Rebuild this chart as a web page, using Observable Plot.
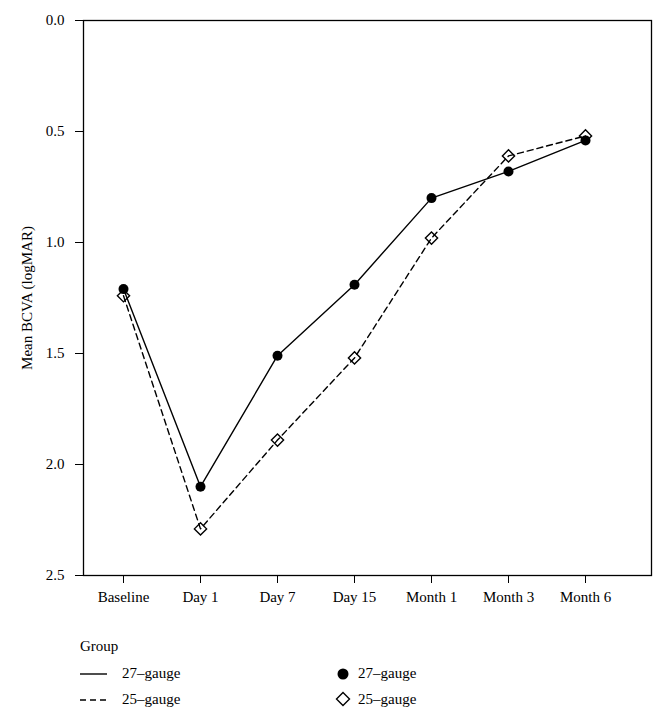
<!DOCTYPE html>
<html>
<head>
<meta charset="utf-8">
<script src="https://cdn.jsdelivr.net/npm/d3@7"></script>
<script src="https://cdn.jsdelivr.net/npm/@observablehq/plot@0.6"></script>
<style>
  body { margin: 0; background: #fff; }
  #wrap { position: relative; width: 665px; height: 720px; font-family: "Liberation Serif", "DejaVu Serif", serif; color: #000; }
  #chart svg { display: block; }
  .lg { position: absolute; font-size: 15px; line-height: 1; white-space: nowrap; }
  .lg svg { position: absolute; overflow: visible; }
</style>
</head>
<body>
<div id="wrap">
  <div id="chart"></div>
  <div class="lg" style="left:80px; top:639px;">Group</div>
  <div class="lg" style="left:80px; top:666px; width:200px;">
    <svg width="28" height="10" style="left:0; top:3px;"><line x1="0" x2="27" y1="5" y2="5" stroke="#000" stroke-width="1.4"/></svg>
    <span style="position:absolute; left:42px; top:0;">27–gauge</span>
  </div>
  <div class="lg" style="left:80px; top:692px; width:200px;">
    <svg width="28" height="10" style="left:0; top:3px;"><line x1="0" x2="27" y1="5" y2="5" stroke="#000" stroke-width="1.4" stroke-dasharray="6,4"/></svg>
    <span style="position:absolute; left:42px; top:0;">25–gauge</span>
  </div>
  <div class="lg" style="left:336px; top:666px; width:200px;">
    <svg width="14" height="14" style="left:0; top:1px;"><circle cx="7" cy="7" r="5.5" fill="#000"/></svg>
    <span style="position:absolute; left:22px; top:0;">27–gauge</span>
  </div>
  <div class="lg" style="left:336px; top:692px; width:200px;">
    <svg width="16" height="16" style="left:0; top:0px;"><path d="M7,0.5 L13.5,7 L7,13.5 L0.5,7 Z" fill="none" stroke="#000" stroke-width="1.4"/></svg>
    <span style="position:absolute; left:22px; top:0;">25–gauge</span>
  </div>
</div>
<script>
const timepoints = ["Baseline", "Day 1", "Day 7", "Day 15", "Month 1", "Month 3", "Month 6"];
const gauge27 = [1.21, 2.10, 1.51, 1.19, 0.80, 0.68, 0.54];
const gauge25 = [1.24, 2.29, 1.89, 1.52, 0.98, 0.61, 0.52];
const yTicks = [0, 0.5, 1.0, 1.5, 2.0, 2.5];

const d27 = timepoints.map((t, i) => ({t, v: gauge27[i]}));
const d25 = timepoints.map((t, i) => ({t, v: gauge25[i]}));

const chart = Plot.plot({
  width: 665,
  height: 612,
  marginTop: 20,
  marginBottom: 37,
  marginLeft: 83,
  marginRight: 14,
  style: {fontFamily: "'Liberation Serif', 'DejaVu Serif', serif", fontSize: "15px", color: "#000", background: "#fff"},
  x: {type: "point", domain: timepoints, range: [121.7, 585.5], padding: 0},
  y: {domain: [0, 2.5], reverse: true},
  marks: [
    Plot.frame({stroke: "#000", strokeWidth: 1.3}),
    Plot.axisX({tickSize: 8, tickPadding: 8, label: null, fontSize: 15}),
    Plot.axisY({ticks: yTicks, tickFormat: d3.format(".1f"), tickSize: 8, tickPadding: 11, label: "Mean BCVA (logMAR)", labelAnchor: "center", labelArrow: "none", labelOffset: 62, fontSize: 15}),
    Plot.line(d27, {x: "t", y: "v", stroke: "#000", strokeWidth: 1.4}),
    Plot.line(d25, {x: "t", y: "v", stroke: "#000", strokeWidth: 1.4, strokeDasharray: "6,4"}),
    Plot.dot(d27, {x: "t", y: "v", r: 5, fill: "#000", stroke: "none"}),
    Plot.dot(d25, {x: "t", y: "v", symbol: "diamond2", r: 5.5, fill: "none", stroke: "#000", strokeWidth: 1.4})
  ]
});
document.getElementById("chart").appendChild(chart);
</script>
</body>
</html>
